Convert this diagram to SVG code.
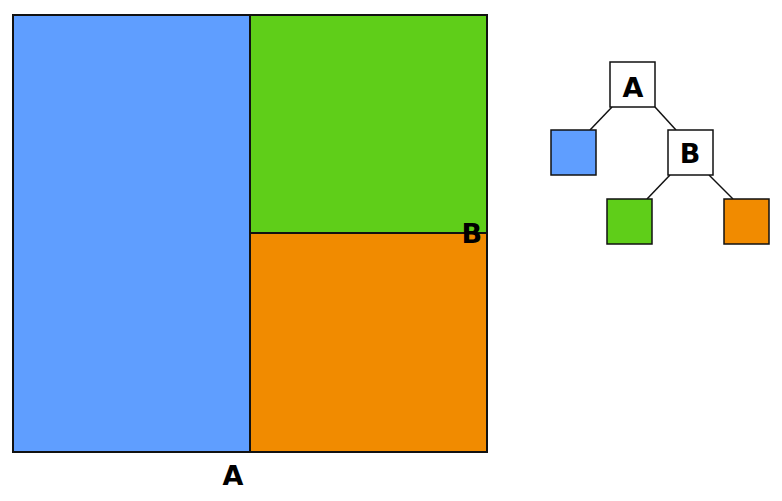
<svg xmlns="http://www.w3.org/2000/svg" width="782" height="501" viewBox="0 0 782 501">
<style>
.r{stroke:#111;stroke-width:2}
.n{stroke:#111;stroke-width:1.5}
.t{font-family:"DejaVu Sans",sans-serif;font-weight:bold;font-size:27px;fill:#000}
.e{stroke:#111;stroke-width:1.5;fill:none}
</style>
<rect width="782" height="501" fill="#fff"/>
<g id="plan">
<rect class="r" x="13" y="15" width="237" height="437" fill="#5f9eff"/>
<rect class="r" x="250" y="15" width="237" height="218" fill="#5fce19"/>
<rect class="r" x="250" y="233" width="237" height="219" fill="#f18b00"/>
<text class="t" x="233" y="485" text-anchor="middle">A</text>
<text class="t" x="482" y="243" text-anchor="end">B</text>
</g>
<g id="connectors">
<line class="e" x1="612" y1="107" x2="590" y2="130"/>
<line class="e" x1="655" y1="107" x2="676" y2="130"/>
<line class="e" x1="670" y1="175" x2="647" y2="199"/>
<line class="e" x1="709" y1="175" x2="733" y2="199"/>
</g>
<g id="nodeA">
<rect class="n" x="610" y="62" width="45" height="45" fill="#fff"/>
<text class="t" x="633" y="97" text-anchor="middle">A</text>
</g>
<g id="nodeBlue"><rect class="n" x="551" y="130" width="45" height="45" fill="#5f9eff"/></g>
<g id="nodeB">
<rect class="n" x="668" y="130" width="45" height="45" fill="#fff"/>
<text class="t" x="690" y="163" text-anchor="middle">B</text>
</g>
<g id="nodeGreen"><rect class="n" x="607" y="199" width="45" height="45" fill="#5fce19"/></g>
<g id="nodeOrange"><rect class="n" x="724" y="199" width="45" height="45" fill="#f18b00"/></g>
</svg>
